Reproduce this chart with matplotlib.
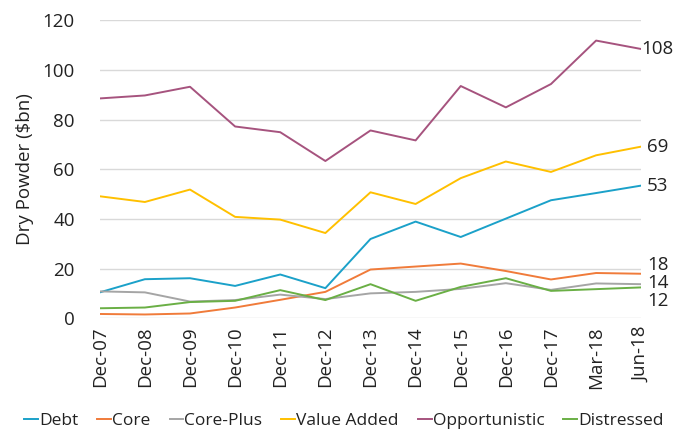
import matplotlib.pyplot as plt

plt.rcParams['font.family'] = ['Open Sans', 'DejaVu Sans']

periods = ['Dec-07', 'Dec-08', 'Dec-09', 'Dec-10', 'Dec-11', 'Dec-12', 'Dec-13',
           'Dec-14', 'Dec-15', 'Dec-16', 'Dec-17', 'Mar-18', 'Jun-18']

debt = [10.4, 15.7, 16.1, 13.0, 17.6, 12.1, 31.9, 38.9, 32.7, 40.1, 47.5, 50.4, 53.4]
core = [1.7, 1.5, 1.9, 4.3, 7.4, 10.6, 19.6, 20.8, 22.0, 19.0, 15.6, 18.2, 17.9]
core_plus = [10.8, 10.4, 6.7, 7.3, 9.5, 7.7, 10.0, 10.6, 11.8, 14.1, 11.4, 14.0, 13.7]
value_added = [49.1, 46.8, 51.8, 40.8, 39.7, 34.3, 50.7, 46.0, 56.4, 63.1, 58.9, 65.6, 69.1]
opportunistic = [88.5, 89.7, 93.2, 77.2, 74.9, 63.3, 75.6, 71.6, 93.5, 84.9, 94.3, 111.8, 108.4]
distressed = [4.0, 4.3, 6.5, 7.0, 11.3, 7.3, 13.7, 7.0, 12.6, 16.1, 11.0, 11.7, 12.4]

series = [
    ('Debt', debt, '#1ba1c9'),
    ('Core', core, '#f07b3a'),
    ('Core-Plus', core_plus, '#a5a5a5'),
    ('Value Added', value_added, '#ffc000'),
    ('Opportunistic', opportunistic, '#a6537e'),
    ('Distressed', distressed, '#6aaf45'),
]

# end labels: (x nudge, y nudge) so they sit like the original and do not overlap
end_labels = {'Opportunistic': (0.0, 0), 'Value Added': (0.13, 0), 'Debt': (0.13, 0),
              'Core': (0.13, 3.4), 'Core-Plus': (0.13, 0.6), 'Distressed': (0.13, -5.4)}

fs = 13.5
fig = plt.figure(figsize=(6.88, 4.30), dpi=100)
ax = fig.add_axes([0.145, 0.260, 0.787, 0.693])

x = list(range(len(periods)))
for name, vals, col in series:
    ax.plot(x, vals, color=col, linewidth=1.4, label=name)
    dx, dy = end_labels[name]
    ax.text(x[-1] + dx, vals[-1] + dy, f'{round(vals[-1])}',
            fontsize=fs, color='#222222', va='center', ha='left')

ax.set_xlim(0, 12)
ax.set_ylim(0, 120)
ax.set_yticks(range(0, 121, 20))
ax.set_xticks(x)
ax.set_xticklabels(periods, rotation=90, fontsize=fs, color='#222222')
ax.tick_params(axis='y', labelsize=fs, labelcolor='#222222', length=0, pad=18)
ax.tick_params(axis='x', length=0, pad=6)
ax.grid(axis='y', color='#d9d9d9', linewidth=1)
ax.set_axisbelow(True)
for s in ax.spines.values():
    s.set_visible(False)
ax.set_ylabel('Dry Powder ($bn)', fontsize=fs, color='#222222', labelpad=6)

fig.legend(loc='center', bbox_to_anchor=(0.5, 0.022), ncol=6, frameon=False,
           fontsize=12.5, handlelength=0.8, handletextpad=0.05, columnspacing=1.1,
           labelcolor='#222222')

fig.savefig('out.png', dpi=100)
